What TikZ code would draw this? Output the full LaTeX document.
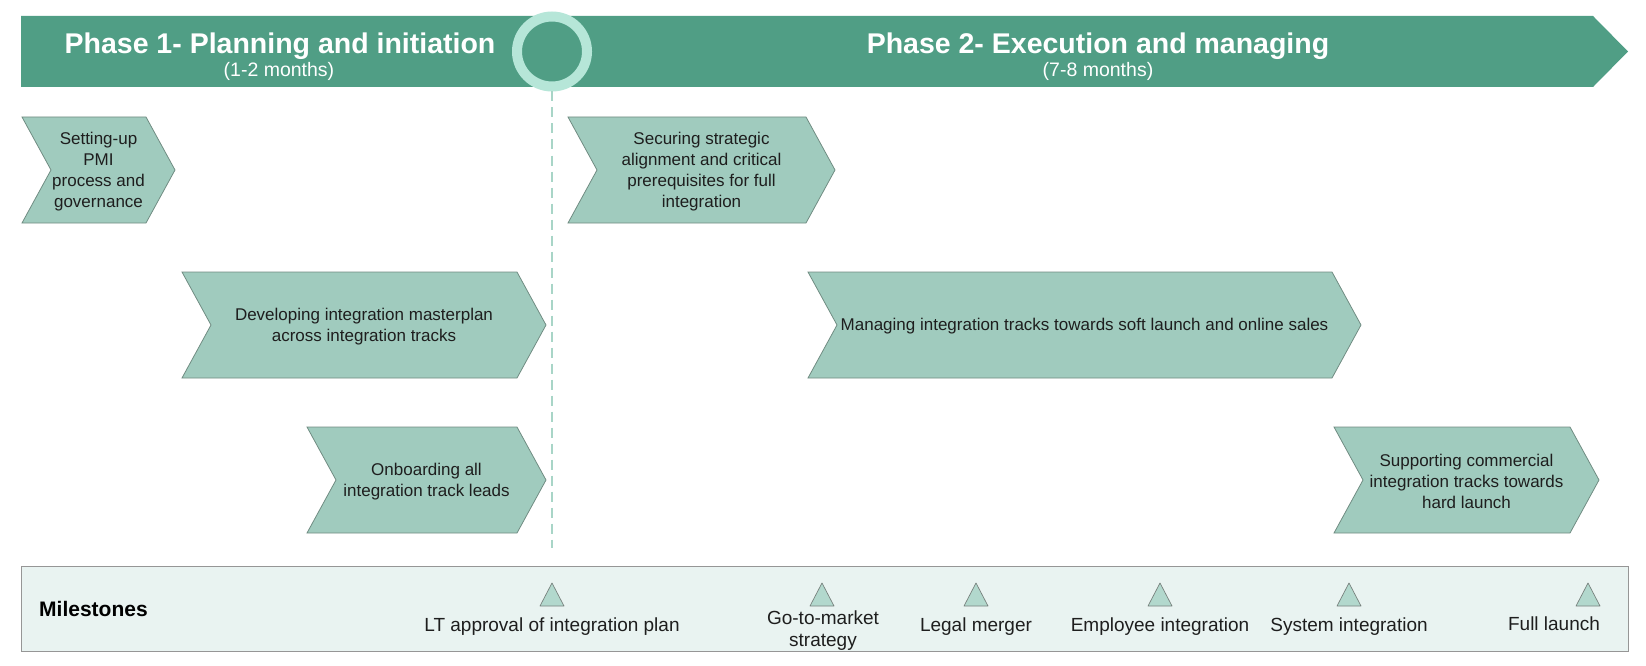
\documentclass[tikz,border=0pt]{standalone}
\usepackage{fontspec}
\setmainfont{Liberation Sans}
\definecolor{bannerc}{RGB}{80,158,133}
\definecolor{ringc}{RGB}{182,230,216}
\definecolor{chevfill}{RGB}{160,203,190}
\definecolor{chevline}{RGB}{112,140,130}
\definecolor{msfill}{RGB}{233,243,241}
\definecolor{msline}{RGB}{150,150,150}
\definecolor{trifill}{RGB}{178,216,205}
\definecolor{triline}{RGB}{120,130,126}
\definecolor{dashc}{RGB}{168,213,199}
\definecolor{txt}{RGB}{30,30,30}
% #1 name, #2 left x, #3 tip x, #4 top y, #5 bottom y, #6 text
\newcommand{\chev}[6]{%
  \draw[chevshape] (#2,#4) -- (#3-29,#4) -- (#3,{(#4+#5)/2}) -- (#3-29,#5)
     -- (#2,#5) -- (#2+29,{(#4+#5)/2}) -- cycle;
  \node[chevtext] (#1) at ({(#2+#3)/2},{(#4+#5)/2+1.5}) {#6};}
% #1 name, #2 x
\newcommand{\mtri}[2]{%
  \draw[mstri] (#2-12,606) -- (#2,583) -- (#2+12,606) -- cycle;
  \coordinate (#1) at (#2,595);}
\begin{document}
\begin{tikzpicture}[x=1pt,y=-1pt,
  chevshape/.style={fill=chevfill,draw=chevline,line width=0.8pt,line join=miter},
  chevtext/.style={align=center,text=txt,font=\fontsize{17}{20.8}\selectfont,inner sep=0},
  titletext/.style={text=white,font=\bfseries\fontsize{28.5}{34}\selectfont,anchor=base,inner sep=0},
  subtitletext/.style={text=white,font=\fontsize{19.5}{22}\selectfont,anchor=base,inner sep=0},
  mslabel/.style={align=center,text=txt,font=\fontsize{19}{22}\selectfont,inner sep=0},
  mstri/.style={fill=trifill,draw=triline,line width=0.7pt,line join=round},
  msbox/.style={fill=msfill,draw=msline,line width=1pt},
  ringnode/.style={circle,draw=ringc,line width=10pt,fill=bannerc,minimum size=70pt,inner sep=0},
  dashline/.style={draw=dashc,line width=2pt,dash pattern=on 10pt off 6pt}
]
\useasboundingbox (0,0) rectangle (1646,666);
% banner
\fill[bannerc] (21,16) -- (1593,16) -- (1628,51.5) -- (1593,87) -- (21,87) -- cycle;
\node[titletext] (p1) at (280,53.5) {Phase 1- Planning and initiation};
\node[subtitletext] (p1s) at (279,76.5) {(1-2 months)};
\node[titletext] (p2) at (1098,53.5) {Phase 2- Execution and managing};
\node[subtitletext] (p2s) at (1098,76.5) {(7-8 months)};
% ring and dashed divider
\coordinate (dashend) at (552,548);
\node[ringnode] (ring) at (552,51.5) {};
\draw[dashline] (ring.south) -- (dashend);
% chevrons
\chev{c1}{22}{175}{117}{223}{Setting-up\\PMI\\process and\\governance}
\chev{c2}{182}{546}{272}{378}{Developing integration masterplan\\across integration tracks}
\chev{c3}{307}{546}{427}{533}{Onboarding all\\integration track leads}
\chev{c4}{568}{835}{117}{223}{Securing strategic\\alignment and critical\\prerequisites for full\\integration}
\chev{c5}{808}{1361}{272}{378}{Managing integration tracks towards soft launch and online sales}
\chev{c6}{1334}{1599}{427}{533}{Supporting commercial\\integration tracks towards\\hard launch}
% milestones
\draw[msbox] (21,566) rectangle (1628,651);
\node[anchor=west,inner sep=0,text=black,font=\bfseries\fontsize{21}{24}\selectfont] (mst) at (39,608.5) {Milestones};
\mtri{t1}{552}
\mtri{t2}{822}
\mtri{t3}{976}
\mtri{t4}{1160}
\mtri{t5}{1349}
\mtri{t6}{1588}
\node[mslabel,anchor=base] (m1) at (552,631.5) {LT approval of integration plan};
\node[mslabel,anchor=north] (m2) at (823,610.5) {Go-to-market\\strategy};
\node[mslabel,anchor=base] (m3) at (976,631.5) {Legal merger};
\node[mslabel,anchor=base] (m4) at (1160,631.5) {Employee integration};
\node[mslabel,anchor=base] (m5) at (1349,631.5) {System integration};
\node[mslabel,anchor=base] (m6) at (1554,630.5) {Full launch};
\end{tikzpicture}
\end{document}
